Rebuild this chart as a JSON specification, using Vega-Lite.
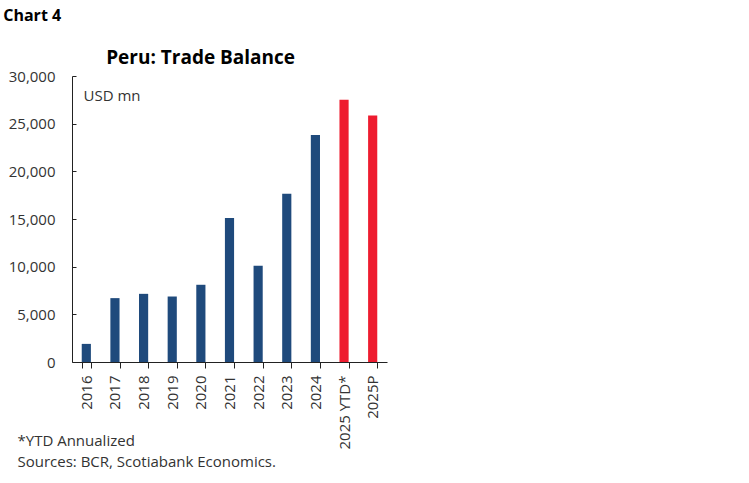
{
  "$schema": "https://vega.github.io/schema/vega-lite/v6.json",
  "background": "white",
  "padding": {"left": 3, "top": 8, "right": 5, "bottom": 5},
  "title": {
    "text": "Chart 4",
    "anchor": "start",
    "font": "Open Sans",
    "fontSize": 16,
    "fontWeight": "bold",
    "color": "black",
    "offset": 25,
    "dx": -5
  },
  "vconcat": [
    {
      "width": 315,
      "height": 286,
      "title": {
        "text": "Peru: Trade Balance",
        "font": "Open Sans",
        "fontSize": 19,
        "fontWeight": "bold",
        "color": "black",
        "anchor": "middle",
        "frame": "bounds",
        "offset": 1,
        "dx": 3
      },
      "data": {
        "values": [
          {"period": "2016", "balance": 1900, "kind": "Actual"},
          {"period": "2017", "balance": 6700, "kind": "Actual"},
          {"period": "2018", "balance": 7150, "kind": "Actual"},
          {"period": "2019", "balance": 6870, "kind": "Actual"},
          {"period": "2020", "balance": 8100, "kind": "Actual"},
          {"period": "2021", "balance": 15100, "kind": "Actual"},
          {"period": "2022", "balance": 10100, "kind": "Actual"},
          {"period": "2023", "balance": 17650, "kind": "Actual"},
          {"period": "2024", "balance": 23800, "kind": "Actual"},
          {"period": "2025 YTD*", "balance": 27500, "kind": "Forecast"},
          {"period": "2025P", "balance": 25850, "kind": "Forecast"}
        ]
      },
      "mark": {"type": "bar"},
      "encoding": {
        "x": {
          "field": "period",
          "type": "ordinal",
          "sort": null,
          "scale": {"paddingInner": 0.68, "paddingOuter": 0.34},
          "axis": {
            "labelAngle": -90,
            "labelAlign": "right",
            "labelBaseline": "middle",
            "labelFontSize": 15,
            "labelColor": "#333",
            "labelPadding": 7,
            "tickSize": 6,
            "tickBand": "extent",
            "tickColor": "#222",
            "domainColor": "#222",
            "title": ["*YTD Annualized", "Sources: BCR, Scotiabank Economics."],
            "titleFontSize": 15,
            "titleFontWeight": "normal",
            "titleColor": "#333",
            "titleAlign": "left",
            "titleBaseline": "alphabetic",
            "titleLineHeight": 21,
            "titleX": -55,
            "titleY": 83
          }
        },
        "y": {
          "field": "balance",
          "type": "quantitative",
          "scale": {"domain": [0, 30000]},
          "axis": {
            "values": [0, 5000, 10000, 15000, 20000, 25000, 30000],
            "format": ",.0f",
            "grid": false,
            "labelFontSize": 15,
            "labelColor": "#333",
            "labelPadding": 21,
            "tickSize": -4,
            "tickColor": "#222",
            "domainColor": "#222",
            "title": "USD mn",
            "titleAngle": 0,
            "titleFontSize": 15,
            "titleFontWeight": "normal",
            "titleColor": "#333",
            "titleAlign": "left",
            "titleBaseline": "alphabetic",
            "titleX": 11,
            "titleY": 24
          }
        },
        "color": {
          "field": "kind",
          "type": "nominal",
          "scale": {"domain": ["Actual", "Forecast"], "range": ["#1f4a7c", "#ee1c2f"]},
          "legend": null
        }
      }
    }
  ],
  "config": {
    "view": {"stroke": null},
    "font": "Open Sans"
  }
}
